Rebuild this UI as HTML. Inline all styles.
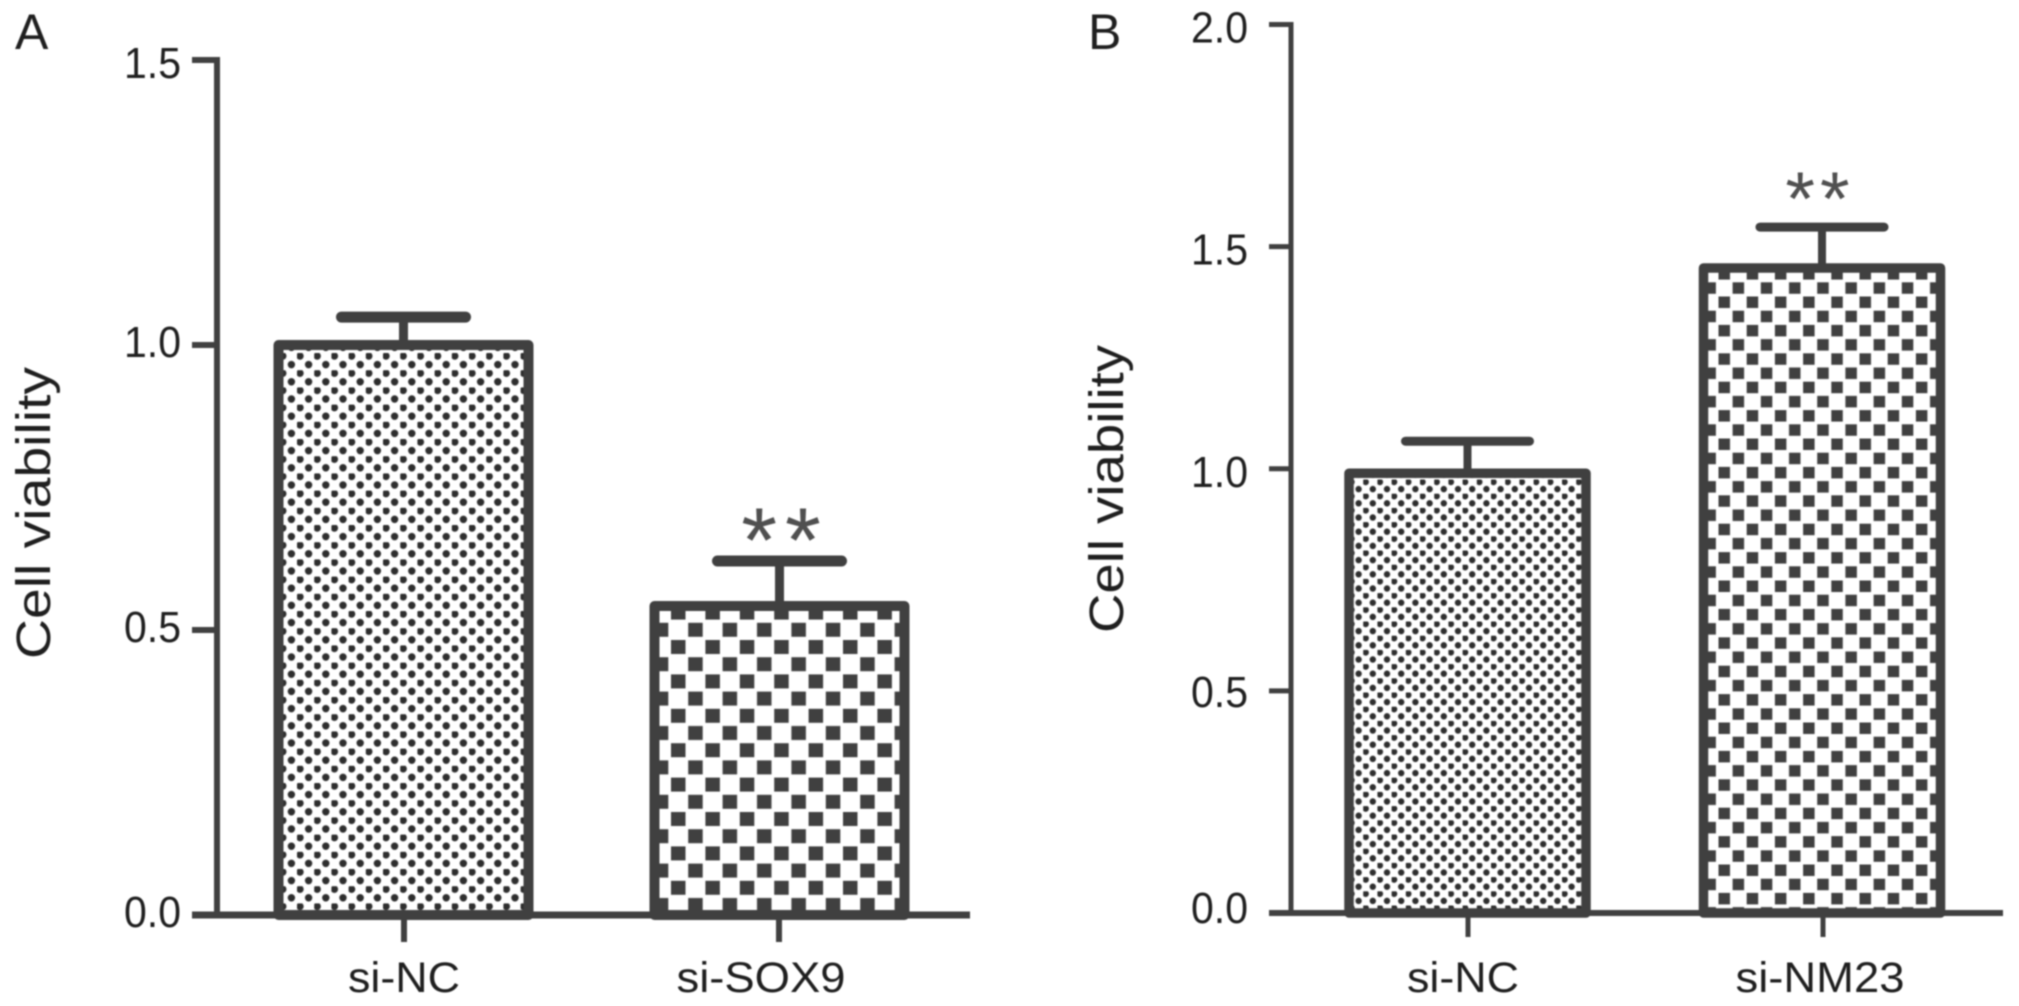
<!DOCTYPE html>
<html lang="en">
<head>
<meta charset="utf-8">
<title>Cell viability bar charts</title>
<style>
html,body{margin:0;padding:0;background:#fff;}
#chart{display:block;width:2019px;height:1006px;filter:blur(0.8px);}
text{font-family:"Liberation Sans",Arial,sans-serif;fill:#1f1f1f;}
</style>
</head>
<body>
<svg id="chart" xmlns="http://www.w3.org/2000/svg" width="2019" height="1006" viewBox="0 0 2019 1006">
  <defs>
    <pattern id="dotsA" patternUnits="userSpaceOnUse" x="297" y="353" width="17.2" height="17.2">
      <circle cx="3" cy="3" r="3.7" fill="#2e2e2e"/>
      <circle cx="11.6" cy="11.6" r="3.7" fill="#2e2e2e"/>
    </pattern>
    <pattern id="checkA" patternUnits="userSpaceOnUse" x="671" y="640" width="34.4" height="34.4">
      <rect x="0" y="0" width="14.5" height="14" fill="#404040"/>
      <rect x="17.2" y="17.2" width="14.5" height="14" fill="#404040"/>
    </pattern>
    <pattern id="dotsB" patternUnits="userSpaceOnUse" x="1363.2" y="479.5" width="14.2" height="14.2">
      <circle cx="2.5" cy="2.5" r="3.2" fill="#2e2e2e"/>
      <circle cx="9.6" cy="9.6" r="3.2" fill="#2e2e2e"/>
    </pattern>
    <pattern id="checkB" patternUnits="userSpaceOnUse" x="1718.5" y="296.5" width="28.2" height="28.4">
      <rect x="0" y="0" width="11.5" height="11.5" fill="#404040"/>
      <rect x="14.1" y="14.2" width="11.5" height="11.5" fill="#404040"/>
    </pattern>
  </defs>
  <g id="panelA"></g>
  <g id="panelB"></g>
</svg>
<script>
// Panel A data
var categoriesA = ['si-NC', 'si-SOX9'];
var valuesA = [1.0, 0.542];
var errorsA = [0.049, 0.079];
var ticksA = [0.0, 0.5, 1.0, 1.5];
var tickLabelsA = ['0.0', '0.5', '1.0', '1.5'];
var significanceA = ['', '**'];

// Panel B data
var categoriesB = ['si-NC', 'si-NM23'];
var valuesB = [0.99, 1.452];
var errorsB = [0.072, 0.092];
var ticksB = [0.0, 0.5, 1.0, 1.5, 2.0];
var tickLabelsB = ['0.0', '0.5', '1.0', '1.5', '2.0'];
var significanceB = ['', '**'];

var SVGNS = 'http://www.w3.org/2000/svg';
var INK = '#404040';

function make(tag, attrs, parent) {
  var el = document.createElementNS(SVGNS, tag);
  for (var k in attrs) { el.setAttribute(k, attrs[k]); }
  parent.appendChild(el);
  return el;
}

function drawPanel(p) {
  var root = document.getElementById(p.id);
  var maxTick = p.ticks[p.ticks.length - 1];
  function yScale(v) { return p.y0 - (v / maxTick) * (p.y0 - p.yTop); }
  function xCenter(i) { return p.barCenters[i]; }
  var el;

  // bars
  p.values.forEach(function (v, i) {
    var top = yScale(v);
    var cx = xCenter(i);
    var capY = yScale(v + p.errors[i]);
    el = make('line', {x1: cx, x2: cx, y1: capY, y2: top, stroke: INK, 'stroke-width': p.stemW}, root);
    
    
    el = make('line', {x1: cx - p.capHalf, x2: cx + p.capHalf, y1: capY, y2: capY, stroke: INK, 'stroke-width': p.capW, 'stroke-linecap': 'round'}, root);
    
    
    el = make('rect', {x: cx - p.barHalf, y: top, width: p.barHalf * 2, height: p.y0 - top, fill: '#fff', stroke: 'none'}, root);
    
    
    el = make('rect', {x: cx - p.barHalf, y: top, width: p.barHalf * 2, height: p.y0 - top, fill: 'url(#' + p.fills[i] + ')', stroke: INK, 'stroke-width': p.barStroke, 'stroke-linejoin': 'round'}, root);
    
    
    if (p.significance[i]) {
      el = make('text', {x: p.starX[i], y: capY + p.starDy, 'text-anchor': 'middle', 'font-size': p.starSize, 'letter-spacing': p.starGap}, root);
      el.style.fill = '#505050';
      
      
      el.textContent = p.significance[i];
    }
  });

  // y axis
  el = make('line', {x1: p.axisX, x2: p.axisX, y1: p.yTop - p.tickW / 2, y2: p.y0, stroke: INK, 'stroke-width': p.axisW}, root);
  
  
  p.ticks.forEach(function (t, i) {
    var y = yScale(t);
    el = make('line', {x1: p.tickLeft, x2: p.axisX, y1: y, y2: y, stroke: INK, 'stroke-width': p.tickW, 'stroke-linecap': 'butt'}, root);
    
    
    var dy = p.labelDy(t, maxTick);
    el = make('text', {x: p.labelRight, y: y + dy, 'text-anchor': 'end', 'font-size': 44, textLength: 57, lengthAdjust: 'spacingAndGlyphs'}, root);
    
    
    el.textContent = p.tickLabels[i];
  });

  // x axis
  el = make('line', {x1: p.tickLeft, x2: p.xEnd, y1: p.y0, y2: p.y0, stroke: INK, 'stroke-width': p.xAxisW}, root);
  
  
  p.categories.forEach(function (c, i) {
    var tx = p.tickCenters[i];
    el = make('line', {x1: tx, x2: tx, y1: p.y0, y2: p.xTickEnd, stroke: INK, 'stroke-width': p.xTickW}, root);
    
    
    el = make('text', {x: p.catX[i], y: 992, 'text-anchor': 'middle', 'font-size': 43, textLength: p.catLen[i], lengthAdjust: 'spacingAndGlyphs'}, root);
    
    
    el.textContent = c;
  });

  // axis title
  el = make('text', {transform: 'translate(' + p.titleX + ',' + p.titleY + ') rotate(-90)', 'text-anchor': 'middle', 'font-size': 48, textLength: p.titleLen, lengthAdjust: 'spacingAndGlyphs'}, root);
  
  
  el.textContent = 'Cell viability';

  // panel letter
  el = make('text', {x: p.letterX, y: 49, 'font-size': 50}, root);
  
  
  el.textContent = p.letter;
}

drawPanel({
  id: 'panelA', letter: 'A', letterX: 15,
  categories: categoriesA, values: valuesA, errors: errorsA,
  ticks: ticksA, tickLabels: tickLabelsA, significance: significanceA,
  fills: ['dotsA', 'checkA'],
  y0: 915, yTop: 60, axisX: 217, axisW: 6, tickLeft: 192, tickW: 6, xAxisW: 7,
  xEnd: 970, xTickEnd: 942, xTickW: 6,
  tickCenters: [404, 779], barCenters: [403.5, 779.5], barHalf: 125, barStroke: 10,
  stemW: 9, capW: 11, capHalf: 62,
  labelRight: 181,
  labelDy: function (t, m) { return t === m ? 18 : 12; },
  catX: [404, 761], catLen: [112, 169],
  titleX: 50, titleY: 513, titleLen: 292,
  starX: [0, 785], starDy: 11, starSize: 92, starGap: 8
});

drawPanel({
  id: 'panelB', letter: 'B', letterX: 1088,
  categories: categoriesB, values: valuesB, errors: errorsB,
  ticks: ticksB, tickLabels: tickLabelsB, significance: significanceB,
  fills: ['dotsB', 'checkB'],
  y0: 913, yTop: 24.5, axisX: 1291, axisW: 5, tickLeft: 1269, tickW: 5, xAxisW: 6,
  xEnd: 2003, xTickEnd: 937, xTickW: 5,
  tickCenters: [1468, 1823], barCenters: [1467.5, 1822], barHalf: 118.5, barStroke: 9.5,
  stemW: 8, capW: 9, capHalf: 62,
  labelRight: 1248,
  labelDy: function (t, m) { return t === 0 ? 10 : (t === 0.5 ? 16 : 18); },
  catX: [1463, 1820], catLen: [112, 169],
  titleX: 1123, titleY: 489, titleLen: 288,
  starX: [0, 1820], starDy: -2, starSize: 76, starGap: 5
});
</script>
</body>
</html>
